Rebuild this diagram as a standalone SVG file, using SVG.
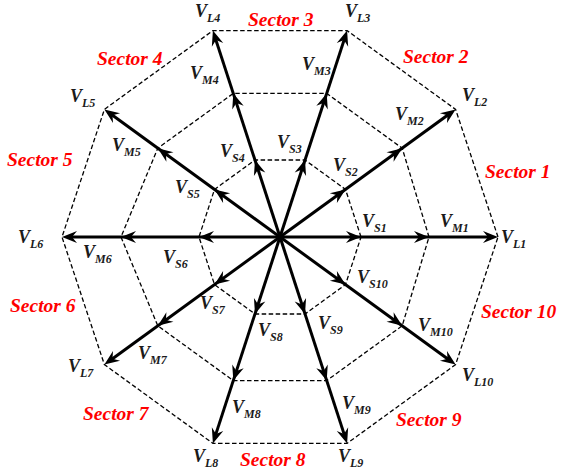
<svg xmlns="http://www.w3.org/2000/svg" width="567" height="476" viewBox="0 0 567 476">
<style>
.dash{fill:none;stroke:#000;stroke-width:1.3;stroke-dasharray:4.5 2.5}
.ray{stroke:#000;stroke-width:3;fill:none}
.tips{fill:none;stroke:none;marker-mid:url(#ah);marker-end:url(#ah)}
.v{font-family:"Liberation Serif","Times New Roman",serif;font-style:italic;font-weight:bold;font-size:18px;fill:#1a1a1a}
.v tspan{font-size:12px}
.sec{font-family:"Liberation Serif","Times New Roman",serif;font-style:italic;font-weight:bold;font-size:19.5px;fill:#ff0000}
</style>
<defs>
<marker id="ah" markerUnits="userSpaceOnUse" markerWidth="17" markerHeight="13" refX="15" refY="6.5" orient="auto" overflow="visible">
<path d="M15,6.5 L0,0.5 L5,6.5 L0,12.5 Z" fill="#000"/>
</marker>
</defs>
<rect width="567" height="476" fill="#fff"/>
<g id="decagons">
<polygon class="dash" points="498,237 455.6,109.4 347.1,30.6 212.9,30.6 104.4,109.4 62,237 104.4,364.6 212.9,443.4 347.1,443.4 455.6,364.6"/>
<polygon class="dash" points="429,237 402.2,148.2 326.7,93.4 233.3,93.4 157.8,148.2 121,237 157.8,325.8 233.3,380.6 326.7,380.6 402.2,325.8"/>
<polygon class="dash" points="361,237 345.5,189.4 305,160 255,160 214.5,189.4 199,237 214.5,284.6 255,314 305,314 345.5,284.6"/>
</g>
<g id="connectors">
<line class="ray" x1="280" y1="237" x2="493" y2="237"/>
<line class="ray" x1="280" y1="237" x2="451.6" y2="112.3"/>
<line class="ray" x1="280" y1="237" x2="345.6" y2="35.4"/>
<line class="ray" x1="280" y1="237" x2="214.4" y2="35.4"/>
<line class="ray" x1="280" y1="237" x2="108.4" y2="112.3"/>
<line class="ray" x1="280" y1="237" x2="67" y2="237"/>
<line class="ray" x1="280" y1="237" x2="108.4" y2="361.7"/>
<line class="ray" x1="280" y1="237" x2="214.4" y2="438.6"/>
<line class="ray" x1="280" y1="237" x2="345.6" y2="438.6"/>
<line class="ray" x1="280" y1="237" x2="451.6" y2="361.7"/>
<polyline class="tips" points="280,237 361,237 429,237 498,237"/>
<polyline class="tips" points="280,237 345.5,189.4 402.2,148.2 455.6,109.4"/>
<polyline class="tips" points="280,237 305,160 326.7,93.4 347.1,30.6"/>
<polyline class="tips" points="280,237 255,160 233.3,93.4 212.9,30.6"/>
<polyline class="tips" points="280,237 214.5,189.4 157.8,148.2 104.4,109.4"/>
<polyline class="tips" points="280,237 199,237 121,237 62,237"/>
<polyline class="tips" points="280,237 214.5,284.6 157.8,325.8 104.4,364.6"/>
<polyline class="tips" points="280,237 255,314 233.3,380.6 212.9,443.4"/>
<polyline class="tips" points="280,237 305,314 326.7,380.6 347.1,443.4"/>
<polyline class="tips" points="280,237 345.5,284.6 402.2,325.8 455.6,364.6"/>
</g>
<g id="VL1"><text class="v" x="501" y="243">V<tspan dy="5">L1</tspan></text></g>
<g id="VL2"><text class="v" x="462" y="101">V<tspan dy="5">L2</tspan></text></g>
<g id="VL3"><text class="v" x="345" y="17">V<tspan dy="5">L3</tspan></text></g>
<g id="VL4"><text class="v" x="195" y="17">V<tspan dy="5">L4</tspan></text></g>
<g id="VL5"><text class="v" x="70" y="102">V<tspan dy="5">L5</tspan></text></g>
<g id="VL6"><text class="v" x="18" y="243">V<tspan dy="5">L6</tspan></text></g>
<g id="VL7"><text class="v" x="68" y="372">V<tspan dy="5">L7</tspan></text></g>
<g id="VL8"><text class="v" x="193" y="462">V<tspan dy="5">L8</tspan></text></g>
<g id="VL9"><text class="v" x="338" y="462">V<tspan dy="5">L9</tspan></text></g>
<g id="VL10"><text class="v" x="462" y="381">V<tspan dy="5">L10</tspan></text></g>
<g id="VM1"><text class="v" x="440" y="227">V<tspan dy="5">M1</tspan></text></g>
<g id="VM2"><text class="v" x="395" y="120">V<tspan dy="5">M2</tspan></text></g>
<g id="VM3"><text class="v" x="302" y="70">V<tspan dy="5">M3</tspan></text></g>
<g id="VM4"><text class="v" x="190" y="79">V<tspan dy="5">M4</tspan></text></g>
<g id="VM5"><text class="v" x="112" y="151">V<tspan dy="5">M5</tspan></text></g>
<g id="VM6"><text class="v" x="83" y="258">V<tspan dy="5">M6</tspan></text></g>
<g id="VM7"><text class="v" x="138" y="359">V<tspan dy="5">M7</tspan></text></g>
<g id="VM8"><text class="v" x="232" y="413">V<tspan dy="5">M8</tspan></text></g>
<g id="VM9"><text class="v" x="342" y="409">V<tspan dy="5">M9</tspan></text></g>
<g id="VM10"><text class="v" x="418" y="331">V<tspan dy="5">M10</tspan></text></g>
<g id="VS1"><text class="v" x="362" y="227">V<tspan dy="5">S1</tspan></text></g>
<g id="VS2"><text class="v" x="333" y="171">V<tspan dy="5">S2</tspan></text></g>
<g id="VS3"><text class="v" x="277" y="148">V<tspan dy="5">S3</tspan></text></g>
<g id="VS4"><text class="v" x="220" y="157">V<tspan dy="5">S4</tspan></text></g>
<g id="VS5"><text class="v" x="175" y="193">V<tspan dy="5">S5</tspan></text></g>
<g id="VS6"><text class="v" x="163" y="263">V<tspan dy="5">S6</tspan></text></g>
<g id="VS7"><text class="v" x="200" y="309">V<tspan dy="5">S7</tspan></text></g>
<g id="VS8"><text class="v" x="258" y="336">V<tspan dy="5">S8</tspan></text></g>
<g id="VS9"><text class="v" x="318" y="329">V<tspan dy="5">S9</tspan></text></g>
<g id="VS10"><text class="v" x="357" y="283">V<tspan dy="5">S10</tspan></text></g>
<g id="sectors">
<text class="sec" x="485" y="178">Sector 1</text>
<text class="sec" x="403" y="63">Sector 2</text>
<text class="sec" x="248" y="26">Sector 3</text>
<text class="sec" x="97" y="65">Sector 4</text>
<text class="sec" x="7" y="166">Sector 5</text>
<text class="sec" x="10" y="312">Sector 6</text>
<text class="sec" x="83" y="420">Sector 7</text>
<text class="sec" x="240" y="466">Sector 8</text>
<text class="sec" x="396" y="426">Sector 9</text>
<text class="sec" x="481" y="318">Sector 10</text>
</g>
</svg>
